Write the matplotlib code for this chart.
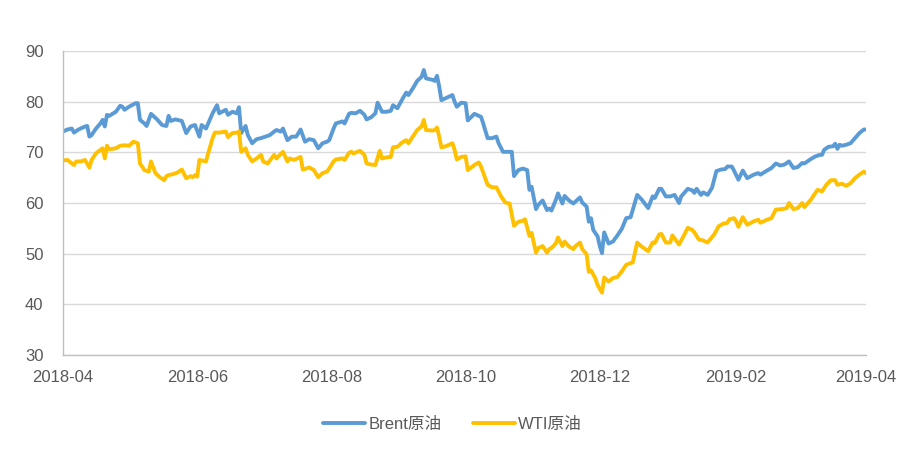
import numpy as np
import pandas as pd
import matplotlib
matplotlib.use("Agg")
import matplotlib.pyplot as plt
import matplotlib.dates as mdates

plt.rcParams['font.family'] = ['Liberation Sans', 'Noto Sans CJK SC', 'DejaVu Sans']

# days counted from 2018-04-01
brent_day = [0, 2, 4, 5, 7, 10, 11, 12, 13, 15, 17, 18, 19, 20, 21, 24, 26, 27, 28, 30,
             33, 34, 35, 37, 38, 40, 43, 45, 47, 48, 49, 51, 52, 54, 56, 58, 60, 62, 63, 65,
             67, 68, 70, 71, 74, 75, 77, 79, 80, 81, 83, 84, 86, 88, 90, 92, 94, 96, 97, 99,
             100, 102, 104, 106, 108, 110, 112, 114, 116, 118, 120, 121, 123, 124, 127, 128, 130, 131, 133, 135,
             137, 138, 140, 142, 143, 145, 147, 149, 150, 152, 154, 156, 157, 159, 161, 163, 164, 165, 168, 169,
             170, 171, 172, 174, 177, 178, 179, 181, 183, 184, 187, 190, 191, 193, 195, 197, 198, 200, 202, 204,
             205, 207, 209, 211, 212, 213, 215, 216, 218, 220, 221, 222, 224, 225, 227, 228, 230, 232, 233, 235,
             236, 238, 239, 240, 241, 243, 244, 245, 246, 248, 250, 252, 254, 256, 258, 261, 263, 266, 268, 269,
             271, 272, 274, 276, 278, 280, 281, 284, 286, 287, 288, 290, 291, 293, 295, 297, 299, 301, 302, 304,
             305, 307, 309, 311, 314, 316, 317, 320, 322, 324, 326, 328, 330, 332, 334, 336, 337, 340, 342, 344,
             345, 346, 348, 350, 351, 352, 353, 354, 356, 358, 360, 362, 364, 365]
brent = [74.1, 74.5, 74.7, 73.9, 74.5, 75.1, 75.2, 73.1, 73.4, 74.7, 75.7, 76.4, 75.1, 77.4, 77.2, 78.0, 79.2, 79.0, 78.4, 79.0,
         79.7, 79.7, 76.4, 75.7, 75.2, 77.6, 76.4, 75.4, 75.2, 77.2, 76.2, 76.5, 76.4, 76.2, 73.8, 75.1, 75.4, 73.1, 75.4, 74.7,
         76.7, 77.7, 79.3, 77.7, 78.4, 77.4, 78.0, 77.7, 78.9, 73.8, 75.2, 73.4, 71.8, 72.6, 72.8, 73.1, 73.4, 74.1, 74.4, 74.1,
         74.7, 72.4, 73.1, 73.1, 74.5, 72.1, 72.6, 72.4, 70.8, 71.8, 72.1, 72.4, 74.7, 75.7, 76.1, 75.7, 77.6, 77.8, 77.7, 78.2,
         77.4, 76.5, 76.9, 77.7, 79.8, 78.0, 78.0, 78.2, 79.3, 78.7, 80.3, 81.8, 81.3, 82.6, 84.1, 84.9, 86.25, 84.6, 84.3, 84.1,
         85.1, 83.0, 80.3, 80.7, 81.3, 80.0, 79.0, 79.8, 79.7, 76.3, 77.6, 77.0, 75.7, 72.8, 72.8, 73.1, 71.8, 70.1, 70.1, 70.1,
         65.3, 66.5, 66.8, 66.5, 62.6, 63.2, 58.8, 59.6, 60.5, 58.6, 58.9, 58.5, 60.6, 61.9, 59.9, 61.4, 60.5, 59.9, 60.3, 61.1,
         60.1, 59.3, 56.3, 57.0, 54.7, 53.4, 51.5, 50.1, 54.2, 52.0, 52.4, 53.6, 54.9, 57.0, 57.2, 61.6, 60.7, 59.0, 61.3, 61.0,
         62.8, 62.8, 61.3, 61.3, 61.6, 60.0, 61.3, 62.8, 62.5, 62.0, 62.8, 61.6, 62.1, 61.6, 63.0, 66.3, 66.6, 66.7, 67.2, 67.2,
         66.4, 64.6, 66.4, 64.9, 65.6, 65.9, 65.6, 66.4, 66.9, 67.8, 67.4, 67.6, 68.2, 66.9, 67.1, 67.9, 67.8, 68.7, 69.2, 69.5,
         69.5, 70.5, 71.1, 71.2, 71.7, 70.7, 71.5, 71.3, 71.5, 71.8, 72.8, 73.8, 74.5, 74.5]

wti_day = [0, 2, 5, 6, 8, 10, 12, 13, 15, 17, 18, 19, 20, 21, 24, 26, 28, 30, 32, 34,
           35, 37, 39, 40, 42, 44, 46, 47, 48, 50, 52, 54, 56, 58, 59, 60, 61, 62, 65, 66,
           68, 69, 71, 74, 75, 77, 79, 80, 81, 83, 84, 86, 88, 90, 91, 93, 96, 97, 100, 102,
           103, 105, 108, 109, 112, 114, 116, 118, 120, 121, 123, 124, 127, 128, 130, 131, 132, 135, 137, 138,
           140, 142, 144, 145, 147, 149, 150, 152, 154, 156, 157, 159, 161, 163, 164, 165, 168, 169, 170, 171,
           172, 174, 177, 178, 179, 181, 183, 184, 187, 189, 190, 193, 195, 197, 199, 201, 203, 205, 207, 209,
           210, 212, 213, 215, 216, 218, 220, 221, 222, 224, 225, 227, 228, 230, 232, 233, 235, 236, 238, 239,
           240, 242, 243, 245, 246, 248, 250, 252, 254, 256, 259, 261, 263, 266, 268, 269, 271, 272, 274, 276,
           277, 280, 282, 284, 286, 287, 289, 291, 293, 296, 298, 300, 302, 303, 305, 306, 307, 309, 311, 314,
           316, 317, 320, 322, 324, 327, 329, 330, 332, 334, 336, 337, 340, 342, 343, 345, 347, 349, 351, 352,
           354, 356, 358, 360, 362, 364, 365]
wti = [68.4, 68.5, 67.5, 68.2, 68.2, 68.5, 67.0, 68.5, 69.8, 70.5, 70.8, 68.8, 71.3, 70.6, 70.8, 71.3, 71.4, 71.3, 72.1, 71.8,
       67.8, 66.5, 66.2, 68.2, 65.9, 65.1, 64.5, 65.3, 65.5, 65.7, 66.0, 66.6, 64.9, 65.3, 65.1, 65.5, 65.2, 68.5, 68.2, 69.8,
       72.8, 73.9, 73.9, 74.1, 73.0, 73.8, 73.9, 74.1, 70.1, 70.8, 69.5, 68.2, 68.8, 69.5, 68.2, 67.8, 69.5, 68.8, 70.1, 68.2,
       68.8, 68.5, 69.1, 66.6, 67.0, 66.5, 65.1, 65.9, 66.2, 66.8, 68.2, 68.6, 68.8, 68.5, 69.9, 70.1, 69.8, 70.3, 69.5, 67.8,
       67.6, 67.5, 70.3, 68.8, 69.0, 69.1, 71.0, 71.1, 71.9, 72.4, 71.8, 73.1, 74.4, 75.1, 76.4, 74.4, 74.3, 74.4, 74.9, 73.1,
       71.0, 71.2, 71.8, 70.5, 68.6, 69.1, 69.2, 66.5, 67.5, 68.0, 67.2, 63.6, 63.1, 63.1, 61.4, 60.1, 59.9, 55.5, 56.3, 56.5,
       56.8, 53.5, 54.1, 50.2, 51.1, 51.5, 50.2, 50.9, 51.1, 52.0, 53.2, 51.5, 52.4, 51.4, 50.9, 51.5, 52.2, 50.9, 49.9, 46.4,
       46.7, 45.1, 43.8, 42.3, 45.3, 44.5, 45.2, 45.4, 46.5, 47.8, 48.3, 52.2, 51.4, 50.5, 52.2, 52.1, 53.8, 53.9, 52.2, 52.2,
       53.6, 51.8, 53.4, 55.1, 54.7, 54.2, 52.8, 52.6, 52.2, 53.8, 55.4, 55.9, 56.1, 56.8, 57.0, 56.4, 55.3, 57.2, 55.7, 56.4,
       56.7, 56.1, 56.7, 57.0, 58.7, 58.8, 59.0, 60.0, 58.8, 59.0, 60.0, 59.2, 60.7, 62.0, 62.6, 62.3, 63.6, 64.5, 64.5, 63.6,
       63.8, 63.4, 63.9, 64.9, 65.6, 66.2, 65.9]

series_names = ["Brent原油", "WTI原油"]
series_colors = ["#5B9BD5", "#FFC000"]
start = pd.Timestamp("2018-04-01")
end = pd.Timestamp("2019-04-01")


def to_dates(days):
    return start + pd.to_timedelta(np.array(days), unit="D")


if __name__ == "__main__":
    fig = plt.figure(figsize=(9.05, 4.54), dpi=100)
    ax = fig.add_axes([63 / 905, 1 - 355 / 454, (866 - 63) / 905, (355 - 51) / 454])

    for days, vals, name, color in zip([brent_day, wti_day], [brent, wti], series_names, series_colors):
        ax.plot(to_dates(days), vals, color=color, lw=2.8, label=name,
                solid_joinstyle="round", solid_capstyle="round")

    ax.set_ylim(30, 90)
    ax.set_yticks(np.arange(30, 91, 10))
    ax.set_xlim(start, end)
    ax.set_xticks(pd.date_range(start, end, freq="2MS"))
    ax.xaxis.set_major_formatter(mdates.DateFormatter("%Y-%m"))

    ax.grid(True, axis="y", color="#d9d9d9", lw=1.0)
    ax.set_axisbelow(True)
    for side in ["top", "right"]:
        ax.spines[side].set_visible(False)
    for side in ["left", "bottom"]:
        ax.spines[side].set_color("#bfbfbf")
        ax.spines[side].set_linewidth(1.0)
    ax.tick_params(axis="both", length=0, labelsize=12, colors="#595959")
    ax.tick_params(axis="y", pad=14)
    ax.tick_params(axis="x", pad=11)

    fig.legend(loc="center", bbox_to_anchor=(0.5, 1 - 424 / 454), ncol=2, frameon=False,
               fontsize=12, labelcolor="#595959", handlelength=2.5, columnspacing=1.9,
               handletextpad=0.2)

    fig.savefig("out.png", dpi=100)
    plt.close()
